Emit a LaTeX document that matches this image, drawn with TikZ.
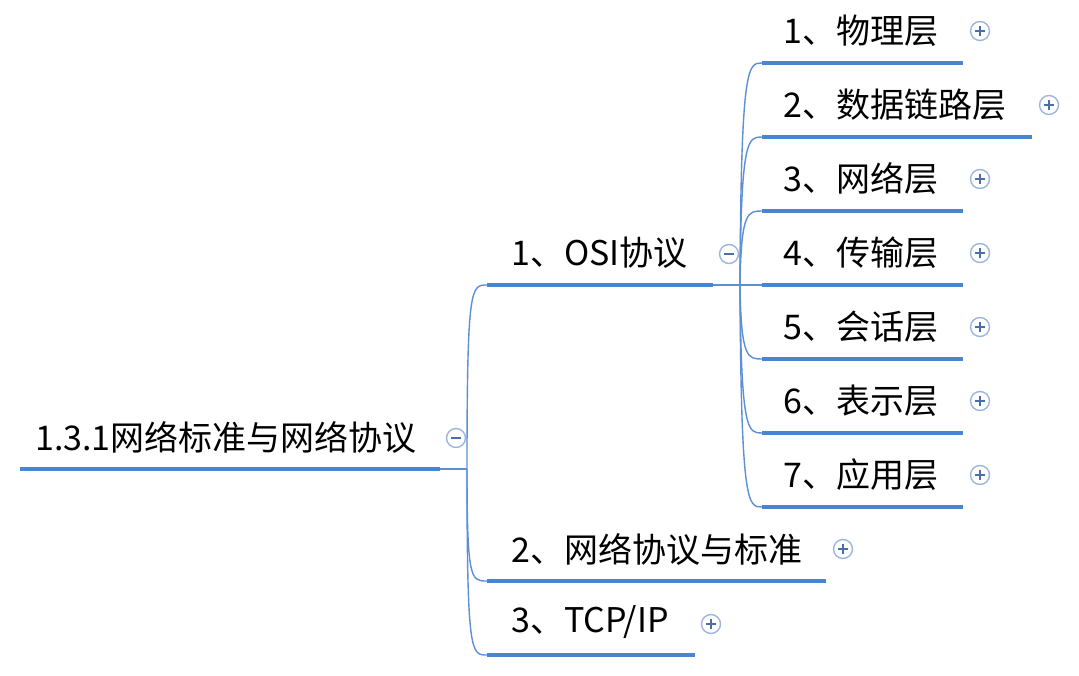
\documentclass[tikz,border=0pt]{standalone}
\usepackage{fontspec}
\setmainfont{Noto Sans CJK SC}
\definecolor{lineblue}{HTML}{4A86D0}
\definecolor{connblue}{HTML}{5C8FD6}
\definecolor{iconring}{HTML}{9DB5DD}
\definecolor{iconsign}{HTML}{4A6FA5}
\begin{document}
\begin{tikzpicture}[x=1pt,y=-1pt,
  topic/.style={anchor=west,inner sep=0pt,font=\fontsize{34}{40}\selectfont,text=black},
  uline/.style={draw=lineblue,line width=4.5pt},
  conn/.style={draw=connblue,line width=1.4pt},
  icon/.style={circle,draw=iconring,line width=1.4pt,minimum size=19pt,inner sep=0pt,fill=white},
  minusicon/.style={icon,path picture={
    \draw[iconsign,line width=1.6pt] ([xshift=-5pt]path picture bounding box.center) -- ([xshift=5pt]path picture bounding box.center);}},
  plusicon/.style={icon,path picture={
    \draw[iconsign,line width=1.6pt] ([xshift=-5pt]path picture bounding box.center) -- ([xshift=5pt]path picture bounding box.center);
    \draw[iconsign,line width=1.6pt] ([yshift=-5pt]path picture bounding box.center) -- ([yshift=5pt]path picture bounding box.center);}}
]
\useasboundingbox (0,0) rectangle (1079,676);

% root
\node[topic] (root) at (35,437) {1.3.1网络标准与网络协议};
\coordinate (rootL) at (20,469);
\coordinate (rootR) at (440,469);
\coordinate (rootJ) at (467,469);
\draw[uline] (rootL) -- (rootR);
\draw[conn] (rootR) -- (rootJ);
\node[minusicon] (rooticon) at (456,438) {};

% level 1
\node[topic] (osi) at (511,253) {1、OSI协议};
\coordinate (osiL) at (487,285);
\coordinate (osiR) at (713,285);
\coordinate (osiJ) at (740,285);
\draw[uline] (osiL) -- (osiR);
\draw[conn] (osiR) -- (osiJ);
\node[minusicon] (osiicon) at (729,254) {};

\node[topic] (std) at (511,549) {2、网络协议与标准};
\coordinate (stdL) at (487,581);
\coordinate (stdR) at (826,581);
\draw[uline] (stdL) -- (stdR);
\node[plusicon] (stdicon) at (843,549) {};

\node[topic] (tcp) at (511,622) {3、TCP/IP};
\coordinate (tcpL) at (487,655);
\coordinate (tcpR) at (695,655);
\draw[uline] (tcpL) -- (tcpR);
\node[plusicon] (tcpicon) at (711,624) {};

\foreach \t/\y in {osiL/285,stdL/581,tcpL/655}{
  \draw[conn] (rootJ) .. controls (467,\y) and (471,\y) .. (\t);
}

% level 2
\foreach \i/\txt/\r in {1/1、物理层/963,2/2、数据链路层/1032,3/3、网络层/963,4/4、传输层/963,5/5、会话层/963,6/6、表示层/963,7/7、应用层/963}{
  \pgfmathsetmacro{\yu}{63+74*(\i-1)}
  \pgfmathsetmacro{\yt}{31+74*(\i-1)}
  \node[topic] (l\i) at (783,\yt) {\txt};
  \coordinate (l\i L) at (762,\yu);
  \coordinate (l\i R) at (\r,\yu);
  \draw[uline] (l\i L) -- (l\i R);
  \draw[conn] (osiJ) .. controls (741,\yu) and (748,\yu) .. (l\i L);
  \node[plusicon] (l\i icon) at (\r+17,\yt) {};
}
\end{tikzpicture}
\end{document}
